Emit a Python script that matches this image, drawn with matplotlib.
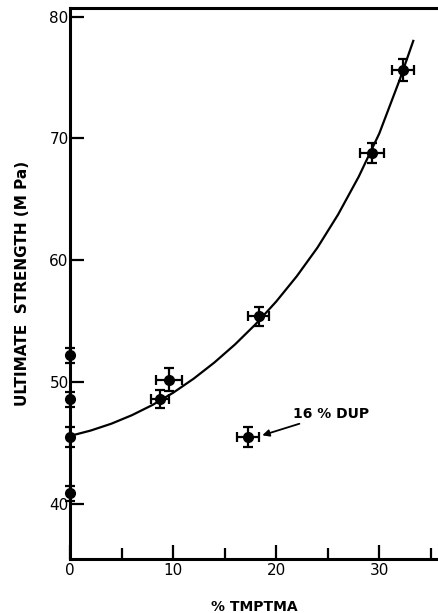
import matplotlib
matplotlib.use("Agg")
import matplotlib.pyplot as plt
from matplotlib.ticker import MultipleLocator

plt.rcParams['font.family'] = ['DejaVu Sans']

# unfilled resin (0 % TMPTMA), individual specimens
base_y = [52.2, 48.6, 45.5, 40.9]
base_err = [0.6, 0.6, 0.85, 0.6]

# TMPTMA series, mean values with spread in both directions
pct = [8.7, 9.6, 18.3, 29.3, 32.3]
strength = [48.6, 50.2, 55.4, 68.8, 75.6]
pct_err = [0.85, 1.3, 1.0, 1.15, 1.1]
strength_err = [0.75, 0.95, 0.75, 0.8, 0.9]

# 16 % DUP sample
dup_x, dup_y = 17.3, 45.5
dup_xerr, dup_yerr = 1.07, 0.8

# hand-drawn trend line
curve_x = [0, 2, 4, 6, 8, 10, 12, 14, 16, 18, 20, 22, 24, 26, 28, 30, 32, 33.3]
curve_y = [45.6, 46.04, 46.6, 47.3, 48.14, 49.14, 50.3, 51.62, 53.1, 54.76,
           56.62, 58.7, 61.04, 63.75, 66.85, 70.4, 74.85, 78.0]

fig = plt.figure(figsize=(4.38, 6.13), dpi=100)
ax = fig.add_axes([0.160, 0.088, 0.840, 0.899])

ax.plot(curve_x, curve_y, color='black', lw=1.6, zorder=2)

eb = dict(fmt='o', color='black', ms=7, elinewidth=1.6, capsize=3.5, capthick=1.6, zorder=3)
ax.errorbar([0] * len(base_y), base_y, yerr=base_err, clip_on=False, **eb)
ax.errorbar(pct, strength, xerr=pct_err, yerr=strength_err, **eb)
ax.errorbar([dup_x], [dup_y], xerr=[dup_xerr], yerr=[dup_yerr], **eb)

ax.annotate('16 % DUP', xy=(dup_x + 1.35, dup_y + 0.15), xytext=(21.6, 47.4),
            fontsize=10, fontweight='bold', va='center', ha='left',
            arrowprops=dict(arrowstyle='-|>', color='black', lw=1.3,
                            mutation_scale=10, shrinkA=0, shrinkB=0))

ax.set_xlim(0, 35.7)
ax.set_ylim(35.5, 80.7)

ax.xaxis.set_major_locator(MultipleLocator(10))
ax.xaxis.set_minor_locator(MultipleLocator(5))
ax.yaxis.set_major_locator(MultipleLocator(10))
ax.tick_params(axis='both', which='both', direction='in', width=1.6, labelsize=11, pad=3)
ax.tick_params(axis='both', which='major', length=10)
ax.tick_params(axis='x', which='minor', length=8)
ax.tick_params(axis='y', pad=1)

for side in ['left', 'bottom', 'top']:
    ax.spines[side].set_linewidth(2.2)
ax.spines['right'].set_visible(False)

ax.set_xlabel('% TMPTMA', fontsize=10, fontweight='bold', labelpad=16)
ax.set_ylabel('ULTIMATE  STRENGTH (M Pa)', fontsize=11, fontweight='bold', labelpad=14)

fig.savefig('out.png', dpi=100)
